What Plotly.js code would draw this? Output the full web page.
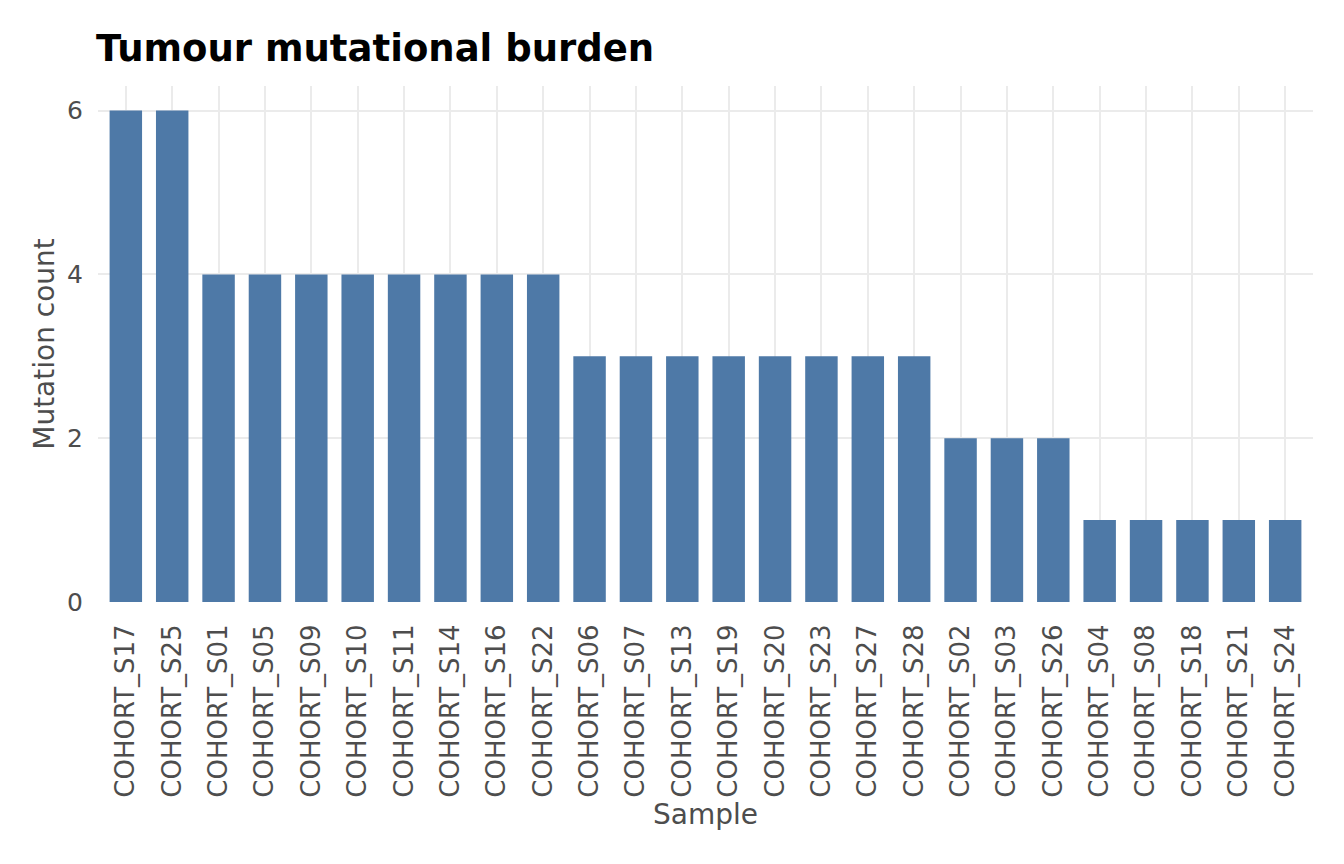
<!DOCTYPE html>
<html>
<head>
<meta charset="utf-8">
<script src="https://cdn.plot.ly/plotly-3.0.1.min.js"></script>
<style>html,body{margin:0;padding:0;background:#fff;}#chart{width:1344px;height:864px;}</style>
</head>
<body>
<div id="chart"></div>
<script>
const samples = ["COHORT_S17","COHORT_S25","COHORT_S01","COHORT_S05","COHORT_S09","COHORT_S10","COHORT_S11","COHORT_S14","COHORT_S16","COHORT_S22","COHORT_S06","COHORT_S07","COHORT_S13","COHORT_S19","COHORT_S20","COHORT_S23","COHORT_S27","COHORT_S28","COHORT_S02","COHORT_S03","COHORT_S26","COHORT_S04","COHORT_S08","COHORT_S18","COHORT_S21","COHORT_S24"];
const mutationCounts = [6,6,4,4,4,4,4,4,4,4,3,3,3,3,3,3,3,3,2,2,2,1,1,1,1,1];
const yTicks = [0,2,4,6];
const barColor = "#4E79A7";

const trace = {
  type: "bar",
  x: samples,
  y: mutationCounts,
  width: 0.7,
  marker: {color: barColor},
  hoverinfo: "x+y"
};

const layout = {
  width: 1344,
  height: 864,
  paper_bgcolor: "#ffffff",
  plot_bgcolor: "#ffffff",
  margin: {l: 98, r: 31, t: 86, b: 262},
  font: {family: "DejaVu Sans, sans-serif", color: "#4D4D4D"},
  title: {
    text: "<b>Tumour mutational burden</b>",
    font: {family: "DejaVu Sans, sans-serif", size: 37, color: "#000000"},
    x: 96/1344, xanchor: "left", xref: "container",
    y: 1 - 61/864, yanchor: "bottom", yref: "container"
  },
  xaxis: {
    type: "category",
    range: [-0.6, samples.length - 0.4],
    tickangle: -90,
    tickfont: {size: 26, color: "#4D4D4D"},
    showgrid: true,
    gridcolor: "#EBEBEB",
    gridwidth: 1.5,
    zeroline: false,
    showline: false,
    ticks: "outside",
    ticklen: 11,
    tickcolor: "rgba(0,0,0,0)",
    title: {text: "Sample", font: {size: 28, color: "#4D4D4D"}, standoff: 7},
    fixedrange: true
  },
  yaxis: {
    range: [0, 6.3],
    tickvals: yTicks,
    ticktext: yTicks.map(String),
    tickfont: {size: 25, color: "#4D4D4D"},
    showgrid: true,
    gridcolor: "#EBEBEB",
    gridwidth: 1.5,
    zeroline: false,
    showline: false,
    ticks: "outside",
    ticklen: 9,
    tickcolor: "rgba(0,0,0,0)",
    title: {text: "Mutation count", font: {size: 28, color: "#4D4D4D"}, standoff: 4},
    fixedrange: true
  },
  bargap: 0.3,
  showlegend: false
};

Plotly.newPlot("chart", [trace], layout, {displayModeBar: false, responsive: false});
</script>
</body>
</html>
